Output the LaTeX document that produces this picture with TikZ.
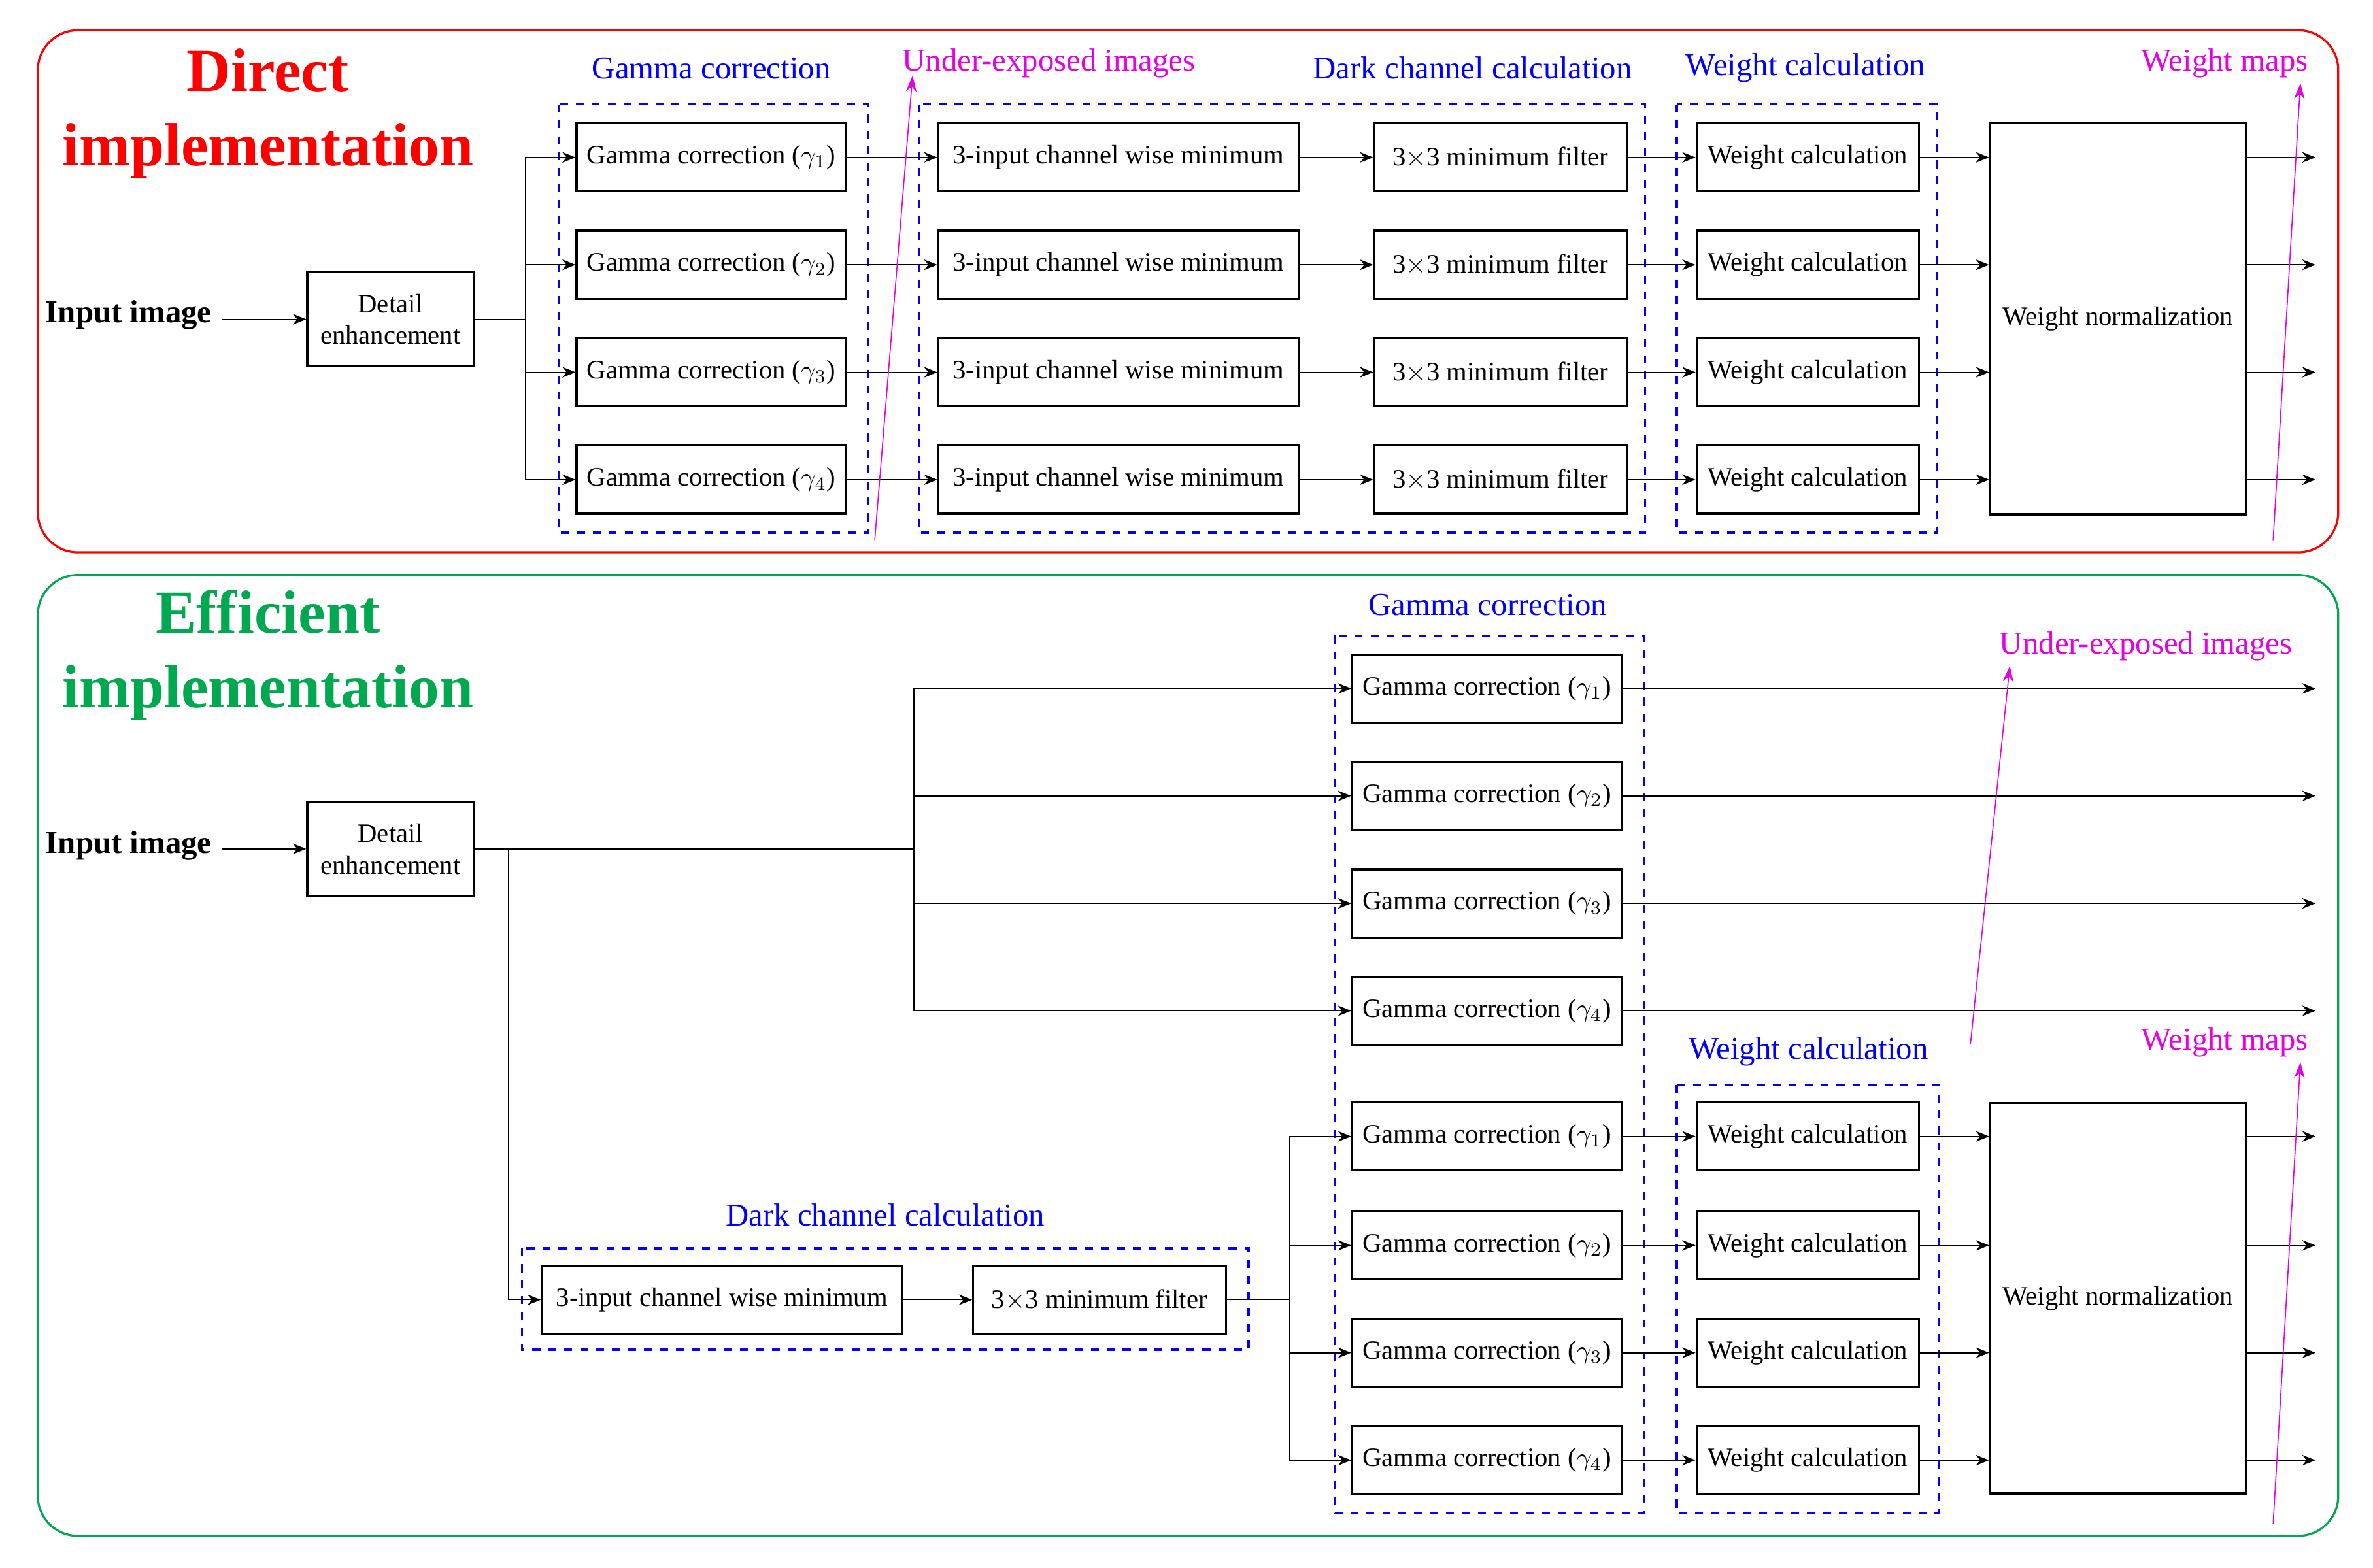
\documentclass[tikz,border=0pt]{standalone}
\usepackage{fontspec}
\setmainfont{Liberation Serif}
\usetikzlibrary{arrows.meta}
\definecolor{mygreen}{RGB}{0,168,80}
\definecolor{mymag}{RGB}{230,0,230}
\begin{document}
\begin{tikzpicture}[x=0.02cm,y=-0.02cm,
 box/.style={draw,thick,minimum height=0.9cm,inner sep=2pt,font=\fontsize{10}{12}\selectfont,align=center},
 grp/.style={draw=blue,thick,dashed},
 lab/.style={text=blue,font=\fontsize{12}{14}\selectfont},
 mlab/.style={text=mymag,font=\fontsize{12}{14}\selectfont},
 arr/.style={-{Stealth[length=5pt,width=4pt]}},
 marr/.style={mymag,-{Stealth[length=6pt,width=4pt]}},
 ttl/.style={font=\fontsize{23}{28}\selectfont\bfseries,align=center},
 inp/.style={font=\fontsize{12}{14}\selectfont\bfseries}]
\useasboundingbox (0,0) rectangle (1568,1036);
% ---------- top panel
\draw[red,thick,rounded corners=15] (25,20) rectangle (1545,365);
\node[ttl,text=red] (t1) at (177,75) {Direct\\implementation};
\node[inp] (in1) at (85,208) {Input image};
\node[box,minimum width=2.2cm,minimum height=1.24cm] (d1) at (258,211) {Detail\\enhancement};
\draw[arr] (147,211) -- (d1.west);
\coordinate (b1) at (347,211);
\draw (d1.east) -- (b1);
\draw[grp] (369,69) rectangle (574,352);
\draw[grp] (607,69) rectangle (1087,352);
\draw[grp] (1108,69) rectangle (1280,352);
\node[lab] (l1) at (470,45) {Gamma correction};
\node[lab] (l2) at (973,45) {Dark channel calculation};
\node[lab] (l3) at (1193,45) {Weight calculation};
\node[mlab] (l4) at (693,42) {Under-exposed images};
\node[mlab] (l5) at (1470,42) {Weight maps};
\node[box,minimum width=3.38cm,minimum height=5.18cm] (n1) at (1399.5,210.5) {Weight normalization};
\foreach \i/\y in {1/104,2/175,3/246,4/317}{
 \node[box,minimum width=3.56cm] (g\i) at (470,\y) {Gamma correction ($\gamma_\i$)};
 \node[box,minimum width=4.76cm] (c\i) at (739,\y) {3-input channel wise minimum};
 \node[box,minimum width=3.34cm] (f\i) at (991.5,\y) {3$\times$3 minimum filter};
 \node[box,minimum width=2.94cm] (w\i) at (1194.5,\y) {Weight calculation};
 \coordinate (o\i) at (1530,\y);
 \draw[arr] (b1) |- (g\i.west);
 \draw[arr] (g\i) -- (c\i);
 \draw[arr] (c\i) -- (f\i);
 \draw[arr] (f\i) -- (w\i);
 \draw[arr] (w\i.east) -- (n1.west |- w\i.east);
 \draw[arr] (n1.east |- w\i.east) -- (o\i);
}
\coordinate (m1a) at (578,357); \coordinate (m1b) at (603,50);
\coordinate (m2a) at (1502,357); \coordinate (m2b) at (1520,55);
\draw[marr] (m1a) -- (m1b);
\draw[marr] (m2a) -- (m2b);
% ---------- bottom panel
\draw[mygreen,thick,rounded corners=15] (25,380) rectangle (1545,1015);
\node[ttl,text=mygreen] (t2) at (177,433) {Efficient\\implementation};
\node[inp] (in2) at (85,559) {Input image};
\node[box,minimum width=2.2cm,minimum height=1.24cm] (d2) at (258,561) {Detail\\enhancement};
\draw[arr] (147,561) -- (d2.west);
\coordinate (b2) at (604,561);
\coordinate (b3) at (336,561);
\draw (d2.east) -- (b2);
\draw[grp] (882,420) rectangle (1086,1000);
\draw[grp] (345,825) rectangle (825,892);
\draw[grp] (1108,717) rectangle (1281,1000);
\node[lab] (l6) at (983,400) {Gamma correction};
\node[lab] (l7) at (585,803) {Dark channel calculation};
\node[lab] (l8) at (1195,695) {Weight calculation};
\node[mlab] (l9) at (1418,427) {Under-exposed images};
\node[mlab] (l10) at (1470,689) {Weight maps};
\node[box,minimum width=4.76cm] (cc) at (477,859) {3-input channel wise minimum};
\node[box,minimum width=3.34cm] (ff) at (726.5,859) {3$\times$3 minimum filter};
\draw[arr] (b3) |- (cc.west);
\draw[arr] (cc) -- (ff);
\coordinate (b4) at (852,859);
\draw (ff.east) -- (b4);
\node[box,minimum width=3.38cm,minimum height=5.16cm] (n2) at (1399.5,858) {Weight normalization};
\foreach \i/\y in {1/455,2/526,3/597,4/668}{
 \node[box,minimum width=3.56cm] (h\i) at (982.5,\y) {Gamma correction ($\gamma_\i$)};
 \coordinate (p\i) at (1530,\y);
 \draw[arr] (b2) |- (h\i.west);
 \draw[arr] (h\i) -- (p\i);
}
\foreach \i/\y in {1/751,2/823,3/894,4/965}{
 \node[box,minimum width=3.56cm] (k\i) at (982.5,\y) {Gamma correction ($\gamma_\i$)};
 \node[box,minimum width=2.94cm] (v\i) at (1194.5,\y) {Weight calculation};
 \coordinate (q\i) at (1530,\y);
 \draw[arr] (b4) |- (k\i.west);
 \draw[arr] (k\i) -- (v\i);
 \draw[arr] (v\i.east) -- (n2.west |- v\i.east);
 \draw[arr] (n2.east |- v\i.east) -- (q\i);
}
\coordinate (m3a) at (1302,690); \coordinate (m3b) at (1328,440);
\coordinate (m4a) at (1502,1007); \coordinate (m4b) at (1520,702);
\draw[marr] (m3a) -- (m3b);
\draw[marr] (m4a) -- (m4b);
\end{tikzpicture}
\end{document}
